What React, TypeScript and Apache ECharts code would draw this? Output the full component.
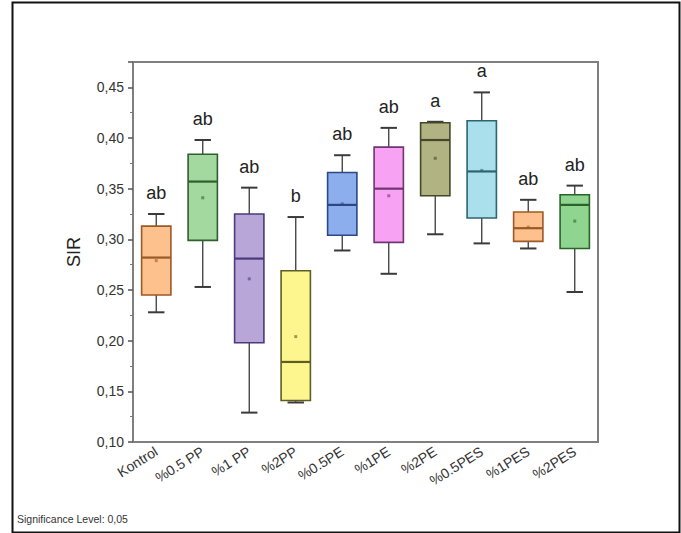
import React, { useEffect, useRef } from "react";
import * as echarts from "echarts";

const categories = ["Kontrol", "%0.5 PP", "%1 PP", "%2PP", "%0.5PE", "%1PE", "%2PE", "%0.5PES", "%1PES", "%2PES"];
const mins = [0.228, 0.253, 0.129, 0.139, 0.289, 0.266, 0.305, 0.296, 0.291, 0.248];
const q1s = [0.245, 0.299, 0.198, 0.141, 0.304, 0.297, 0.343, 0.321, 0.298, 0.291];
const medians = [0.282, 0.357, 0.281, 0.179, 0.334, 0.350, 0.398, 0.367, 0.311, 0.334];
const q3s = [0.313, 0.384, 0.325, 0.269, 0.366, 0.391, 0.415, 0.417, 0.327, 0.344];
const maxs = [0.325, 0.398, 0.351, 0.322, 0.383, 0.410, 0.416, 0.445, 0.339, 0.353];
const means = [0.279, 0.341, 0.261, 0.204, 0.335, 0.343, 0.380, 0.368, 0.312, 0.318];
const letters = ["ab", "ab", "ab", "b", "ab", "ab", "a", "a", "ab", "ab"];
const yTicks = [0.1, 0.15, 0.2, 0.25, 0.3, 0.35, 0.4, 0.45];

const fills = ["#FCC18C", "#A3D99E", "#B8A6D8", "#FDF68E", "#8DAEEC", "#F8A2F4", "#B2B382", "#A9E0EC", "#FCC18C", "#8FD58F"];
const borders = ["#9A5A28", "#2F5E2F", "#4A3A78", "#5E5E22", "#2C4884", "#703670", "#46462A", "#2C6470", "#9A5A28", "#2A622A"];

const FONT = "Liberation Sans, Arial, sans-serif";

export default function App() {
  const ref = useRef<HTMLDivElement>(null);
  useEffect(() => {
    if (!ref.current) return;
    const chart = echarts.init(ref.current, undefined, { renderer: "svg" });
    const data = categories.map((c, i) => [i, mins[i], q1s[i], medians[i], q3s[i], maxs[i], means[i]]);
    chart.setOption({
      animation: false,
      backgroundColor: "#ffffff",
      grid: {
        left: 133,
        right: 83,
        top: 62,
        bottom: 91,
        show: true,
        borderColor: "#7f7f7f",
        borderWidth: 2,
        backgroundColor: "transparent",
      },
      xAxis: {
        type: "category",
        data: categories,
        axisLine: { lineStyle: { color: "#7f7f7f", width: 2 } },
        axisTick: { alignWithLabel: true, length: 5, lineStyle: { color: "#555", width: 1.5 } },
        axisLabel: { rotate: 32, fontSize: 14, color: "#333", margin: 8, fontFamily: FONT, interval: 0 },
        splitLine: { show: false },
      },
      yAxis: {
        type: "value",
        min: 0.1,
        max: 0.475,
        interval: 0.05,
        name: "SIR",
        nameLocation: "middle",
        nameGap: 50,
        nameTextStyle: { fontSize: 18, color: "#222", fontFamily: FONT },
        axisLine: { show: true, lineStyle: { color: "#7f7f7f", width: 2 } },
        axisTick: { show: true, length: 5, lineStyle: { color: "#555", width: 1.5 } },
        minorTick: { show: true, splitNumber: 2, length: 3, lineStyle: { color: "#777", width: 1 } },
        axisLabel: {
          fontSize: 14,
          color: "#333",
          margin: 9,
          fontFamily: FONT,
          formatter: (v: number) => {
            const ok = yTicks.some((t) => Math.abs(t - v) < 1e-6);
            return ok ? v.toFixed(2).replace(".", ",") : "";
          },
        },
        splitLine: { show: false },
      },
      series: [
        {
          type: "custom",
          data,
          encode: { x: 0, y: [1, 5] },
          renderItem: (params: any, api: any) => {
            const i = api.value(0);
            const pMin = api.coord([i, api.value(1)]);
            const yQ1 = api.coord([i, api.value(2)])[1];
            const yMed = api.coord([i, api.value(3)])[1];
            const yQ3 = api.coord([i, api.value(4)])[1];
            const yMax = api.coord([i, api.value(5)])[1];
            const yMean = api.coord([i, api.value(6)])[1];
            const cx = pMin[0];
            const yMin = pMin[1];
            const bw = api.size([1, 0])[0] * 0.63;
            const half = bw / 2;
            const cap = bw * 0.28;
            const wStyle = { stroke: "#3a3a3a", lineWidth: 1.3 };
            return {
              type: "group",
              children: [
                { type: "line", shape: { x1: cx, y1: yMax, x2: cx, y2: yQ3 }, style: wStyle },
                { type: "line", shape: { x1: cx, y1: yQ1, x2: cx, y2: yMin }, style: wStyle },
                { type: "line", shape: { x1: cx - cap, y1: yMax, x2: cx + cap, y2: yMax }, style: { stroke: "#3a3a3a", lineWidth: 2 } },
                { type: "line", shape: { x1: cx - cap, y1: yMin, x2: cx + cap, y2: yMin }, style: { stroke: "#3a3a3a", lineWidth: 2 } },
                {
                  type: "rect",
                  shape: { x: cx - half, y: yQ3, width: bw, height: yQ1 - yQ3 },
                  style: { fill: fills[i], stroke: borders[i], lineWidth: 1.6 },
                },
                { type: "line", shape: { x1: cx - half, y1: yMed, x2: cx + half, y2: yMed }, style: { stroke: borders[i], lineWidth: 2.2 } },
                { type: "rect", shape: { x: cx - 1.5, y: yMean - 1.5, width: 3, height: 3 }, style: { fill: borders[i], opacity: 0.6 } },
                {
                  type: "text",
                  style: {
                    text: letters[i],
                    x: cx,
                    y: yMax - 12,
                    textAlign: "center",
                    textVerticalAlign: "bottom",
                    align: "center",
                    verticalAlign: "bottom",
                    fontSize: 18,
                    fontFamily: FONT,
                    fill: "#222",
                  },
                },
              ],
            };
          },
        },
      ],
      graphic: [
        {
          type: "rect",
          left: 10,
          top: 0,
          shape: { x: 0, y: 0, width: 667, height: 530 },
          style: { fill: "none", stroke: "#111", lineWidth: 2 },
          silent: true,
        },
        {
          type: "text",
          left: 17,
          top: 513,
          style: { text: "Significance Level: 0,05", fontSize: 10.5, fill: "#333", fontFamily: FONT },
        },
      ],
    });
    return () => chart.dispose();
  }, []);
  return <div ref={ref} style={{ position: "fixed", left: 0, top: 0, width: 681, height: 533 }} />;
}
